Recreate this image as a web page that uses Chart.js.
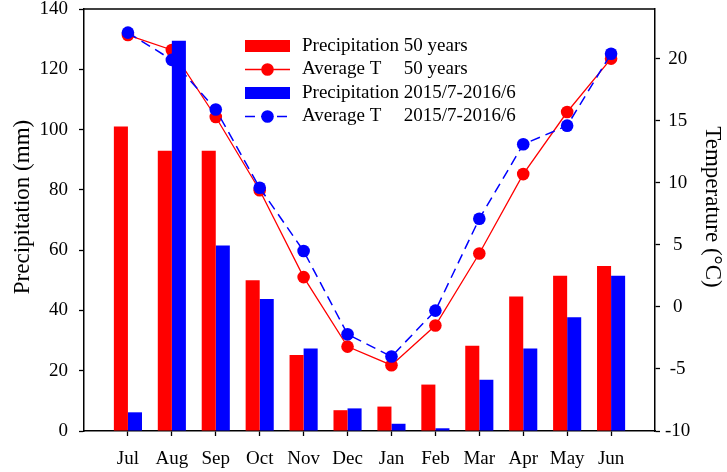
<!DOCTYPE html>
<html><head><meta charset="utf-8">
<script src="https://cdn.jsdelivr.net/npm/chart.js@4.4.1/dist/chart.umd.min.js"></script>
<style>html,body{margin:0;padding:0;background:#fff}canvas{display:block}</style>
</head><body>
<canvas id="c" width="727" height="472"></canvas>
<script>
// ---- data ----
const months = ['Jul','Aug','Sep','Oct','Nov','Dec','Jan','Feb','Mar','Apr','May','Jun'];
const precip50 = [101, 93, 93, 50, 25.2, 6.9, 8.1, 15.4, 28.3, 44.6, 51.5, 54.7];
const precipYear = [6.2, 129.5, 61.5, 43.8, 27.4, 7.5, 2.4, 0.9, 17.0, 27.4, 37.7, 51.5];
const temp50 = [21.9, 20.7, 15.3, 9.4, 2.4, -3.2, -4.7, -1.5, 4.3, 10.7, 15.7, 20.0];
const tempYear = [22.1, 19.9, 15.9, 9.6, 4.5, -2.2, -4.0, -0.3, 7.1, 13.1, 14.6, 20.4];
const seriesLabels = ['Precipitation\t50 years', 'Average T\t50 years', 'Precipitation\t2015/7-2016/6', 'Average T\t2015/7-2016/6'];
const yLeftTitle = 'Precipitation (mm)';
const yRightTitle = 'Temperature (°C)';

// ---- build ----
const xLabels = ['', ...months, ''];
const pad = arr => [null, ...arr, null];
const FONT = '"Liberation Serif", "Times New Roman", serif';
const RED = '#ff0000', BLUE = '#0000ff';

const noPad = s => { s.paddingTop = 0; s.paddingBottom = 0; s.paddingLeft = 0; s.paddingRight = 0; };

const framePlugin = {
  id: 'frame',
  afterDraw(chart) {
    const {ctx, chartArea: a} = chart;
    ctx.save();
    ctx.strokeStyle = '#000';
    ctx.lineWidth = 1.5;
    ctx.beginPath();
    ctx.moveTo(a.left, a.top); ctx.lineTo(a.right, a.top);
    ctx.stroke();
    // axis titles
    ctx.fillStyle = '#000';
    ctx.font = '23px ' + FONT;
    ctx.textAlign = 'center';
    ctx.textBaseline = 'middle';
    const cy = 207;
    ctx.save(); ctx.translate(23, cy); ctx.rotate(-Math.PI / 2); ctx.fillText(yLeftTitle, 0, 0); ctx.restore();
    ctx.save(); ctx.translate(712, cy); ctx.rotate(Math.PI / 2); ctx.fillText(yRightTitle, 0, 0); ctx.restore();
    ctx.restore();
  }
};

const legendPlugin = {
  id: 'boxLegend',
  afterDraw(chart) {
    const ctx = chart.ctx;
    const x0 = 245, mw = 45, tx = 302, y0 = 46, dy = 23.5;
    ctx.save();
    ctx.font = '19px ' + FONT;
    ctx.textBaseline = 'middle';
    const parts = chart.data.datasets.map(d => d.label.split('\t'));
    const col = Math.max(...parts.map(p => ctx.measureText(p[0]).width)) + ctx.measureText(' ').width;
    chart.data.datasets.forEach((d, i) => {
      const y = y0 + i * dy;
      if (d.type === 'bar') {
        ctx.fillStyle = d.backgroundColor;
        ctx.fillRect(x0, y - 6, mw, 12);
      } else {
        ctx.strokeStyle = d.borderColor;
        ctx.lineWidth = d.borderWidth;
        ctx.setLineDash(d.borderDash || []);
        ctx.beginPath(); ctx.moveTo(x0, y); ctx.lineTo(x0 + mw, y); ctx.stroke();
        ctx.setLineDash([]);
        ctx.fillStyle = d.backgroundColor;
        ctx.beginPath(); ctx.arc(x0 + mw / 2, y, 6.3, 0, Math.PI * 2); ctx.fill();
      }
      ctx.fillStyle = '#000';
      ctx.fillText(parts[i][0], tx, y);
      if (parts[i][1]) ctx.fillText(parts[i][1], tx + col, y);
    });
    ctx.restore();
  }
};

new Chart(document.getElementById('c'), {
  data: {
    labels: xLabels,
    datasets: [
      { type: 'bar', label: seriesLabels[0], data: pad(precip50), backgroundColor: RED, borderWidth: 0,
        yAxisID: 'y', order: 1, categoryPercentage: 0.64, barPercentage: 1 },
      { type: 'line', label: seriesLabels[1], data: pad(temp50), borderColor: RED, backgroundColor: RED,
        borderWidth: 1.3, pointRadius: 6.3, pointBorderWidth: 0, pointBackgroundColor: RED,
        yAxisID: 'y1', order: 3 },
      { type: 'bar', label: seriesLabels[2], data: pad(precipYear), backgroundColor: BLUE, borderWidth: 0,
        yAxisID: 'y', order: 2, categoryPercentage: 0.64, barPercentage: 1 },
      { type: 'line', label: seriesLabels[3], data: pad(tempYear), borderColor: BLUE, backgroundColor: BLUE,
        borderWidth: 1.5, borderDash: [10, 6], pointRadius: 6.3, pointBorderWidth: 0, pointBackgroundColor: BLUE,
        yAxisID: 'y1', order: 0 }
    ]
  },
  options: {
    responsive: false, animation: false, devicePixelRatio: 1,
    layout: { padding: { top: 9, left: 0, right: 0, bottom: 0 } },
    plugins: { legend: { display: false }, tooltip: { enabled: false } },
    scales: {
      x: {
        type: 'category', offset: false,
        grid: { display: true, drawOnChartArea: false, drawTicks: true, tickLength: 5, offset: false,
                tickWidth: 1.3, tickColor: c => (xLabels[c.index] ? '#000' : 'rgba(0,0,0,0)') },
        border: { display: true, color: '#000', width: 1.5 },
        ticks: { color: '#000', font: { family: FONT, size: 19 }, padding: 12, maxRotation: 0, autoSkip: false },
        afterFit(s) { s.height = 41; noPad(s); }
      },
      y: {
        position: 'left', min: 0, max: 140,
        ticks: { stepSize: 20, color: '#000', font: { family: FONT, size: 19 }, padding: 11 },
        grid: { drawOnChartArea: false, tickLength: 5, tickColor: '#000', tickWidth: 1.3 },
        border: { display: true, color: '#000', width: 1.5 },
        afterFit(s) { s.width = 84; noPad(s); }
      },
      y1: {
        position: 'right', min: -10, max: 24,
        ticks: { stepSize: 5, includeBounds: false, crossAlign: 'center', color: '#000', font: { family: FONT, size: 19 }, padding: 5 },
        grid: { drawOnChartArea: false, tickLength: 5, tickColor: '#000', tickWidth: 1.3 },
        border: { display: true, color: '#000', width: 1.5 },
        afterFit(s) { s.width = 72; noPad(s); }
      }
    }
  },
  plugins: [framePlugin, legendPlugin]
});
</script>
</body></html>
